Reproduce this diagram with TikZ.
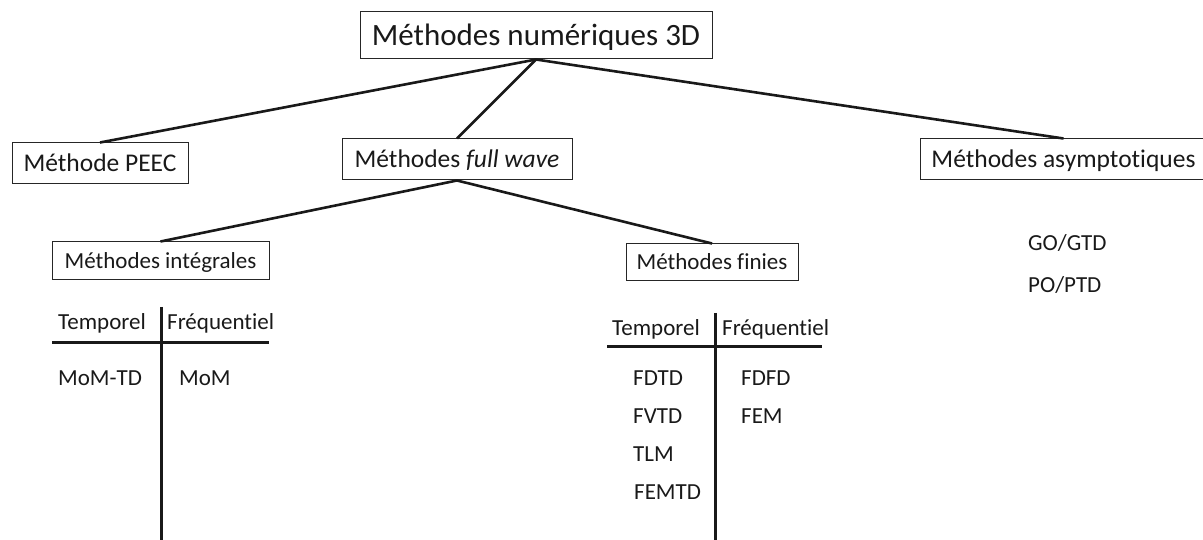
\documentclass[tikz,border=0pt]{standalone}
\usepackage{fontspec}
\setmainfont{Carlito}[Ligatures={NoCommon}]
\begin{document}
\begin{tikzpicture}[x=1pt,y=-1pt,
  box/.style={draw=black!85, line width=1pt, inner sep=0pt, text depth=0pt, text=black!90},
  big/.style={font=\fontsize{31}{36}\selectfont, text height=20pt},
  mid/.style={font=\fontsize{25.5}{30}\selectfont, text height=16.4pt},
  small/.style={font=\fontsize{23}{27}\selectfont, text height=14.8pt},
  link/.style={line width=2.6pt, draw=black!90},
  rulel/.style={line width=3pt, draw=black!90},
  cell/.style={inner sep=0pt, font=\fontsize{23}{27}\selectfont, text=black!90, anchor=base west}]
\useasboundingbox (0,0) rectangle (1203,540);
% boxes
\node[box,big,minimum width=352,minimum height=47] (top) at (536,35.5) {Méthodes numériques 3D};
\node[box,mid,minimum width=176,minimum height=41] (peec) at (100,163.5) {Méthode PEEC};
\node[box,mid,minimum width=230,minimum height=41] (fw) at (457,159.5) {Méthodes \textit{full wave}};
\node[box,mid,minimum width=287,minimum height=41] (asy) at (1063.5,159.5) {Méthodes asymptotiques};
\node[box,small,minimum width=217,minimum height=38] (integ) at (160.5,261) {Méthodes intégrales};
\node[box,small,minimum width=172,minimum height=37] (fin) at (712,262.5) {Méthodes finies};
% connectors
\draw[link] (top.south) -- (peec.north);
\draw[link] (top.south) -- (fw.north);
\draw[link] (top.south) -- (asy.north);
\draw[link] (fw.south) -- (integ.north);
\draw[link] (fw.south) -- (fin.north);
% left table
\coordinate (lh1) at (52,342);
\coordinate (lh2) at (269,342);
\coordinate (lv1) at (161,307);
\coordinate (lv2) at (161,545);
\draw[rulel] (lh1) -- (lh2);
\draw[rulel] (lv1) -- (lv2);
\node[cell] (lt) at (58,330) {Temporel};
\node[cell] (lf) at (167,330) {Fréquentiel};
\node[cell] (momtd) at (58,385) {MoM-TD};
\node[cell] (mom) at (179,385) {MoM};
% right table
\coordinate (rh1) at (607,346);
\coordinate (rh2) at (822,346);
\coordinate (rv1) at (715,313);
\coordinate (rv2) at (715,545);
\draw[rulel] (rh1) -- (rh2);
\draw[rulel] (rv1) -- (rv2);
\node[cell] (rt) at (612,335) {Temporel};
\node[cell] (rf) at (722,335) {Fréquentiel};
\node[cell] (fdtd) at (633,385) {FDTD};
\node[cell] (fvtd) at (633,423) {FVTD};
\node[cell] (tlm) at (633,461) {TLM};
\node[cell] (femtd) at (634,499) {FEMTD};
\node[cell] (fdfd) at (741,385) {FDFD};
\node[cell] (fem) at (741,423) {FEM};
% asymptotic
\node[cell] (go) at (1028,251) {GO/GTD};
\node[cell] (po) at (1028,293) {PO/PTD};
\end{tikzpicture}
\end{document}
